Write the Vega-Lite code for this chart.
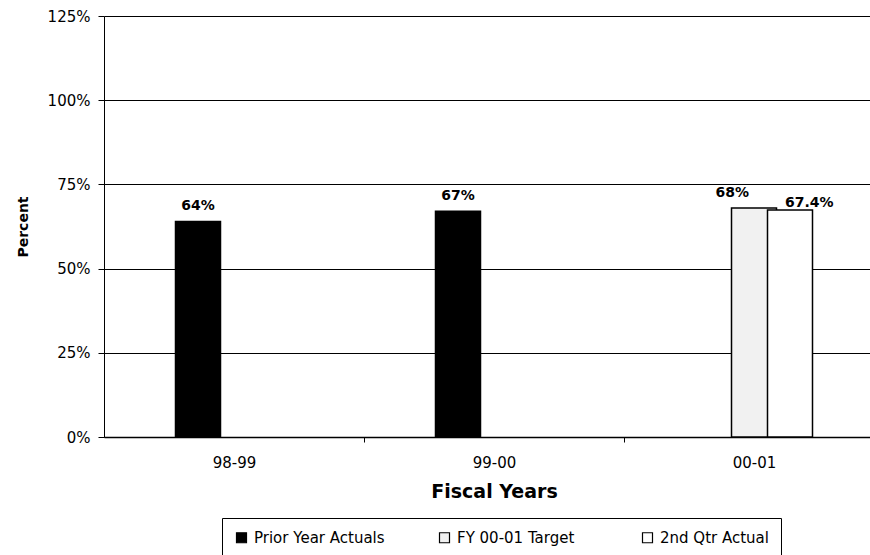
{
  "$schema": "https://vega.github.io/schema/vega-lite/v6.json",
  "width": 766,
  "height": 421,
  "autosize": {"type": "none"},
  "padding": {"left": 104, "top": 16, "right": 0, "bottom": 118},
  "background": "white",
  "config": {
    "view": {"stroke": null},
    "font": "DejaVu Sans",
    "axis": {
      "domainColor": "black",
      "tickColor": "black",
      "labelColor": "black",
      "titleColor": "black",
      "labelFont": "DejaVu Sans",
      "titleFont": "DejaVu Sans",
      "titleFontWeight": "bold"
    }
  },
  "data": {
    "values": [
      {"year": "98-99", "series": "Prior Year Actuals", "value": 0.64},
      {"year": "99-00", "series": "Prior Year Actuals", "value": 0.67},
      {"year": "00-01", "series": "FY 00-01 Target", "value": 0.68},
      {"year": "00-01", "series": "2nd Qtr Actual", "value": 0.674}
    ]
  },
  "encoding": {
    "x": {
      "field": "year",
      "type": "nominal",
      "sort": ["98-99", "99-00", "00-01"],
      "scale": {"range": [0, 780], "paddingInner": 0.5846, "paddingOuter": 0.2923},
      "axis": {
        "title": "Fiscal Years",
        "titleFontSize": 19,
        "titlePadding": 12,
        "labelAngle": 0,
        "labelFontSize": 15,
        "labelPadding": 13,
        "tickOffset": 130,
        "labelOffset": -130,
        "tickSize": 5,
        "domainWidth": 1.5,
        "grid": false
      }
    },
    "xOffset": {
      "field": "series",
      "type": "nominal",
      "scale": {
        "domain": ["Prior Year Actuals", "FY 00-01 Target", "2nd Qtr Actual"],
        "paddingInner": 0,
        "paddingOuter": 0
      }
    },
    "y": {
      "field": "value",
      "type": "quantitative",
      "scale": {"domain": [0, 1.25], "nice": false},
      "axis": {
        "title": "Percent",
        "titleFontSize": 14,
        "titlePadding": 17,
        "values": [0, 0.25, 0.5, 0.75, 1, 1.25],
        "format": ".0%",
        "labelFontSize": 15,
        "labelPadding": 8,
        "tickSize": 6,
        "grid": true,
        "gridColor": "black",
        "gridOpacity": 1,
        "gridWidth": 1
      }
    }
  },
  "layer": [
    {
      "mark": {"type": "bar", "width": 45, "stroke": "black", "strokeWidth": 1.5},
      "encoding": {
        "fill": {
          "field": "series",
          "type": "nominal",
          "scale": {
            "domain": ["Prior Year Actuals", "FY 00-01 Target", "2nd Qtr Actual"],
            "range": ["#000000", "#f1f1f1", "#ffffff"]
          },
          "legend": {
            "title": null,
            "orient": "none",
            "legendX": 118,
            "legendY": 502,
            "direction": "horizontal",
            "columns": 3,
            "gridAlign": "all",
            "columnPadding": 52,
            "symbolType": "square",
            "symbolSize": 100,
            "symbolStrokeColor": "black",
            "symbolStrokeWidth": 1.2,
            "labelFontSize": 15,
            "labelColor": "black",
            "labelOffset": 5,
            "strokeColor": "black",
            "padding": 12
          }
        }
      }
    },
    {
      "transform": [{"filter": "datum.series === 'Prior Year Actuals'"}],
      "mark": {"type": "text", "baseline": "bottom", "dy": -8, "fontWeight": "bold", "fontSize": 14, "color": "black"},
      "encoding": {"text": {"field": "value", "type": "quantitative", "format": ".1~%"}}
    },
    {
      "transform": [{"filter": "datum.series === 'FY 00-01 Target'"}],
      "mark": {"type": "text", "baseline": "bottom", "align": "right", "dx": -5, "dy": -8, "fontWeight": "bold", "fontSize": 14, "color": "black"},
      "encoding": {"text": {"field": "value", "type": "quantitative", "format": ".1~%"}}
    },
    {
      "transform": [{"filter": "datum.series === '2nd Qtr Actual'"}],
      "mark": {"type": "text", "baseline": "bottom", "align": "left", "dx": -5, "dy": 0, "fontWeight": "bold", "fontSize": 14, "color": "black"},
      "encoding": {"text": {"field": "value", "type": "quantitative", "format": ".1~%"}}
    }
  ]
}
